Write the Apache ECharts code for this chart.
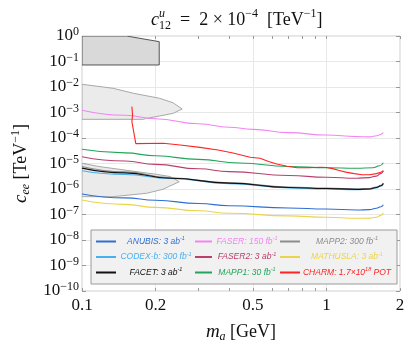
<!DOCTYPE html>
<html>
<head>
<meta charset="utf-8">
<script src="https://cdn.jsdelivr.net/npm/echarts@6/dist/echarts.min.js"></script>
<style>
html, body { margin: 0; padding: 0; background: #fff; }
#chart { width: 411px; height: 348px; }
</style>
</head>
<body>
<div id="chart"></div>
<script>
// axis ticks
const xTicks = [0.1, 0.2, 0.5, 1, 2];
const xMinorTicks = [0.3, 0.4, 0.6, 0.7, 0.8, 0.9];
const yTicks = [1e-10, 1e-9, 1e-8, 1e-7, 1e-6, 1e-5, 1e-4, 1e-3, 1e-2, 1e-1, 1];

// sensitivity curves, [m_a (GeV), c_ee (TeV^-1)]
const anubis = [[0.1, 6.4e-7], [0.15, 4.5e-7], [0.2, 3.6e-7], [0.3, 2.7e-7], [0.4, 2.2e-7], [0.7, 1.8e-7], [1.0, 1.64e-7], [1.33, 1.5e-7], [1.5, 1.55e-7], [1.6, 1.75e-7], [1.67, 2.0e-7], [1.71, 2.4e-7]];
const codexb = [[0.1, 5.2e-6], [0.15, 3.7e-6], [0.23, 2.6e-6], [0.4, 1.62e-6], [0.7, 1.1e-6], [1.0, 1.0e-6], [1.33, 9.3e-7], [1.5, 9.8e-7], [1.6, 1.1e-6], [1.67, 1.3e-6], [1.71, 1.6e-6]];
const facet = [[0.1, 6.6e-6], [0.15, 4.3e-6], [0.23, 2.65e-6], [0.4, 1.7e-6], [0.7, 1.15e-6], [1.0, 1.05e-6], [1.33, 9.7e-7], [1.5, 1.0e-6], [1.6, 1.15e-6], [1.67, 1.35e-6], [1.71, 1.65e-6]];
const faser = [[0.1, 1.22e-3], [0.15, 7.8e-4], [0.2, 5.7e-4], [0.3, 3.62e-4], [0.4, 2.65e-4], [0.5, 2.17e-4], [0.7, 1.62e-4], [1.0, 1.31e-4], [1.33, 1.13e-4], [1.5, 1.11e-4], [1.61, 1.22e-4], [1.71, 1.61e-4]];
const faser2 = [[0.1, 1.85e-5], [0.15, 1.25e-5], [0.2, 9.2e-6], [0.3, 6.2e-6], [0.4, 4.8e-6], [0.7, 3.4e-6], [1.0, 2.9e-6], [1.33, 2.65e-6], [1.5, 2.8e-6], [1.6, 3.2e-6], [1.67, 4.0e-6], [1.71, 5.2e-6]];
const mapp1 = [[0.1, 3.6e-5], [0.15, 2.6e-5], [0.2, 2.0e-5], [0.3, 1.45e-5], [0.44, 1.05e-5], [0.7, 7.6e-6], [1.0, 6.8e-6], [1.33, 6.5e-6], [1.55, 6.8e-6], [1.65, 8.2e-6], [1.71, 1.07e-5]];
const mapp2 = [[0.1, 7.6e-6], [0.15, 4.7e-6], [0.23, 2.75e-6], [0.4, 1.75e-6], [0.7, 1.2e-6], [1.0, 1.08e-6], [1.33, 1.0e-6], [1.5, 1.03e-6], [1.6, 1.2e-6], [1.67, 1.4e-6], [1.71, 1.7e-6]];
const mathusla = [[0.1, 3.7e-7], [0.15, 2.5e-7], [0.2, 1.9e-7], [0.3, 1.4e-7], [0.4, 1.12e-7], [0.7, 8.8e-8], [1.0, 7.8e-8], [1.33, 7.1e-8], [1.5, 7.2e-8], [1.6, 7.8e-8], [1.67, 9.2e-8], [1.71, 1.18e-7]];
const charm = [[0.16, 1.7e-3], [0.161, 8e-4], [0.16, 4.4e-4], [0.166, 6.0e-5], [0.215, 6.2e-5], [0.252, 5.3e-5], [0.304, 4.3e-5], [0.36, 3.4e-5], [0.415, 2.6e-5], [0.487, 1.75e-5], [0.535, 1.6e-5], [0.58, 1.2e-5], [0.626, 9.5e-6], [0.69, 7.8e-6], [0.76, 6.8e-6], [0.85, 6.8e-6], [0.94, 7.1e-6], [1.0, 7.0e-6], [1.06, 6.3e-6], [1.12, 5.4e-6], [1.2, 4.6e-6], [1.3, 4.0e-6], [1.4, 3.6e-6], [1.5, 3.6e-6], [1.6, 4.0e-6], [1.67, 4.5e-6], [1.71, 5.2e-6]];

// excluded regions (polygon vertices)
const regionTop = [[0.1, 1], [0.152, 1], [0.207, 0.6], [0.207, 0.073], [0.1, 0.073]];
const regionMid = [[0.1, 1.28e-2], [0.134, 8.9e-3], [0.162, 5.7e-3], [0.208, 3.6e-3], [0.236, 2.4e-3], [0.257, 1.37e-3], [0.236, 9.3e-4], [0.208, 7.3e-4], [0.184, 5.9e-4], [0.178, 5.4e-4], [0.1, 5.4e-4]];
const regionLow = [[0.1, 1.02e-5], [0.1185, 7.5e-6], [0.157, 5.2e-6], [0.2, 3.8e-6], [0.229, 3.1e-6], [0.25, 1.93e-6], [0.214, 9.7e-7], [0.184, 6.8e-7], [0.134, 5.0e-7], [0.1, 5.0e-7]];

const serif = 'Liberation Serif';
const sans = 'Liberation Sans';

const colors = {
    'ANUBIS': '#2e6fd3',
    'CODEX-b': '#47b0ee',
    'FACET': '#111111',
    'FASER': '#f285f2',
    'FASER2': '#b8406a',
    'MAPP1': '#22a559',
    'MAPP2': '#8c8c8c',
    'MATHUSLA': '#ead44a',
    'CHARM': '#ff2323'
};

const labels = {
    'ANUBIS': '{t|ANUBIS: 3 ab}{s|-1}',
    'CODEX-b': '{t|CODEX-b: 300 fb}{s|-1}',
    'FACET': '{t|FACET: 3 ab}{s|-1}',
    'FASER': '{t|FASER: 150 fb}{s|-1}',
    'FASER2': '{t|FASER2: 3 ab}{s|-1}',
    'MAPP1': '{t|MAPP1: 30 fb}{s|-1}',
    'MAPP2': '{t|MAPP2: 300 fb}{s|-1}',
    'MATHUSLA': '{t|MATHUSLA: 3 ab}{s|-1}',
    'CHARM': '{t|CHARM: 1.7×10}{s|18}{t| POT}'
};

const curves = [
    ['ANUBIS', anubis], ['CODEX-b', codexb], ['MAPP2', mapp2], ['FACET', facet],
    ['FASER', faser], ['FASER2', faser2], ['MAPP1', mapp1], ['MATHUSLA', mathusla], ['CHARM', charm]
];

function regionSeries(name, pts, fill, stroke) {
    return {
        type: 'custom',
        name: name,
        data: pts,
        silent: true,
        clip: true,
        z: 1,
        encode: { x: 0, y: 1 },
        renderItem: function (params, api) {
            if (params.dataIndex !== 0) return;
            const points = pts.map(p => api.coord(p));
            return {
                type: 'polygon',
                shape: { points: points },
                style: { fill: fill, stroke: stroke, lineWidth: 1 }
            };
        }
    };
}

function legendAt(names, left, iconW, textW) {
    return {
        orient: 'vertical',
        left: left,
        top: 235.5,
        padding: 0,
        itemGap: 3.5,
        itemWidth: iconW,
        itemHeight: 2,
        icon: 'rect',
        selectedMode: false,
        z: 5,
        data: names.map(n => ({ name: n, textStyle: { color: colors[n] } })),
        formatter: n => labels[n],
        textStyle: {
            width: textW,
            lineHeight: 12,
            fontSize: 8.5,
            fontStyle: 'italic',
            fontFamily: sans,
            rich: {
                t: { align: 'center', fontSize: 8.5, fontStyle: 'italic', fontFamily: sans },
                s: { align: 'center', fontSize: 5.5, fontStyle: 'italic', fontFamily: sans, verticalAlign: 'top', lineHeight: 8 }
            }
        }
    };
}

const xAll = xTicks.concat(xMinorTicks).sort((a, b) => a - b);

const chart = echarts.init(document.getElementById('chart'));

const option = {
    animation: false,
    title: {
        left: 146,
        top: 3,
        text: '{i|c}{u|u}{sub|12}{n|  =  2 × 10}{sup|−4}{n|  [TeV}{sup|−1}{n|]}',
        textStyle: {
            fontFamily: serif,
            fontWeight: 'normal',
            color: '#111',
            rich: {
                i: { fontFamily: serif, fontStyle: 'italic', fontSize: 18, lineHeight: 24 },
                u: { fontFamily: serif, fontStyle: 'italic', fontSize: 12, verticalAlign: 'top', lineHeight: 13, width: 0 },
                sub: { fontFamily: serif, fontSize: 12, verticalAlign: 'bottom', lineHeight: 14 },
                n: { fontFamily: serif, fontSize: 18, lineHeight: 24 },
                sup: { fontFamily: serif, fontSize: 12, verticalAlign: 'top', lineHeight: 13 }
            }
        }
    },
    grid: {
        left: 82,
        right: 11,
        top: 36,
        bottom: 57,
        show: true,
        borderColor: '#cfcfcf',
        borderWidth: 1
    },
    graphic: [{
        type: 'rect',
        z: 3,
        shape: { x: 91, y: 230, width: 306, height: 54 },
        style: { fill: '#f1f1f1', stroke: '#9a9a9a', lineWidth: 1 }
    }],
    legend: [
        legendAt(['ANUBIS', 'CODEX-b', 'FACET'], 96, 20, 70),
        legendAt(['FASER', 'FASER2', 'MAPP1'], 195, 17, 60),
        legendAt(['MAPP2', 'MATHUSLA', 'CHARM'], 280, 20, 84)
    ],
    xAxis: [{
        type: 'log',
        min: 0.1,
        max: 2,
        position: 'bottom',
        axisLine: { show: false },
        axisTick: { show: true, inside: true, length: 3, customValues: xAll, lineStyle: { color: '#999' } },
        axisLabel: {
            customValues: xTicks,
            margin: 6,
            fontFamily: serif,
            fontSize: 17,
            color: '#111',
            formatter: v => String(v)
        },
        splitLine: {
            show: true,
            lineStyle: { color: xAll.map(v => xTicks.includes(v) ? '#e8e8e8' : 'rgba(0,0,0,0)'), width: 1 }
        },
        name: '{i|m}{s|a}{n| [GeV]}',
        nameLocation: 'middle',
        nameGap: 30,
        nameTextStyle: {
            color: '#111',
            fontFamily: serif,
            rich: {
                i: { fontFamily: serif, fontStyle: 'italic', fontSize: 19, lineHeight: 22 },
                s: { fontFamily: serif, fontStyle: 'italic', fontSize: 12, verticalAlign: 'bottom', lineHeight: 13 },
                n: { fontFamily: serif, fontSize: 18, lineHeight: 22 }
            }
        }
    }, {
        type: 'log',
        min: 0.1,
        max: 2,
        position: 'top',
        axisLine: { show: false },
        axisTick: { show: true, inside: true, length: 3, customValues: xAll, lineStyle: { color: '#999' } },
        axisLabel: { show: false },
        splitLine: { show: false }
    }],
    yAxis: [{
        type: 'log',
        min: 1e-10,
        max: 1,
        position: 'left',
        axisLine: { show: false },
        axisTick: { show: true, inside: true, length: 4, customValues: yTicks, lineStyle: { color: '#999' } },
        axisLabel: {
            customValues: yTicks,
            margin: 3,
            color: '#111',
            formatter: function (v) {
                const e = Math.round(Math.log10(v));
                return '{b|10}{e|' + (e < 0 ? '−' + (-e) : e) + '}';
            },
            rich: {
                b: { fontFamily: serif, fontSize: 17, lineHeight: 20 },
                e: { fontFamily: serif, fontSize: 12, verticalAlign: 'top', lineHeight: 12 }
            }
        },
        splitLine: { show: true, lineStyle: { color: '#e8e8e8', width: 1 } },
        name: '{i|c}{s|ee}{n| [TeV}{p|−1}{n|]}',
        nameLocation: 'middle',
        nameGap: 50,
        nameTextStyle: {
            color: '#111',
            fontFamily: serif,
            rich: {
                i: { fontFamily: serif, fontStyle: 'italic', fontSize: 19, lineHeight: 22 },
                s: { fontFamily: serif, fontStyle: 'italic', fontSize: 12, verticalAlign: 'bottom', lineHeight: 13 },
                n: { fontFamily: serif, fontSize: 18, lineHeight: 22 },
                p: { fontFamily: serif, fontSize: 12, verticalAlign: 'top', lineHeight: 13 }
            }
        }
    }, {
        type: 'log',
        min: 1e-10,
        max: 1,
        position: 'right',
        axisLine: { show: false },
        axisTick: { show: true, inside: true, length: 4, customValues: yTicks, lineStyle: { color: '#999' } },
        axisLabel: { show: false },
        splitLine: { show: false }
    }],
    series: [
        regionSeries('regionTop', regionTop, '#d9d9d9', '#555555'),
        regionSeries('regionMid', regionMid, '#ebebeb', '#a8a8a8'),
        regionSeries('regionLow', regionLow, '#ebebeb', '#a8a8a8')
    ].concat(curves.map(([name, pts]) => ({
        type: 'line',
        name: name,
        data: pts,
        color: colors[name],
        showSymbol: false,
        symbol: 'none',
        smooth: name === 'CHARM' ? false : 0.5,
        smoothMonotone: 'x',
        z: 2,
        lineStyle: { width: 1.1, color: colors[name] }
    })))
};

chart.setOption(option);
</script>
</body>
</html>
